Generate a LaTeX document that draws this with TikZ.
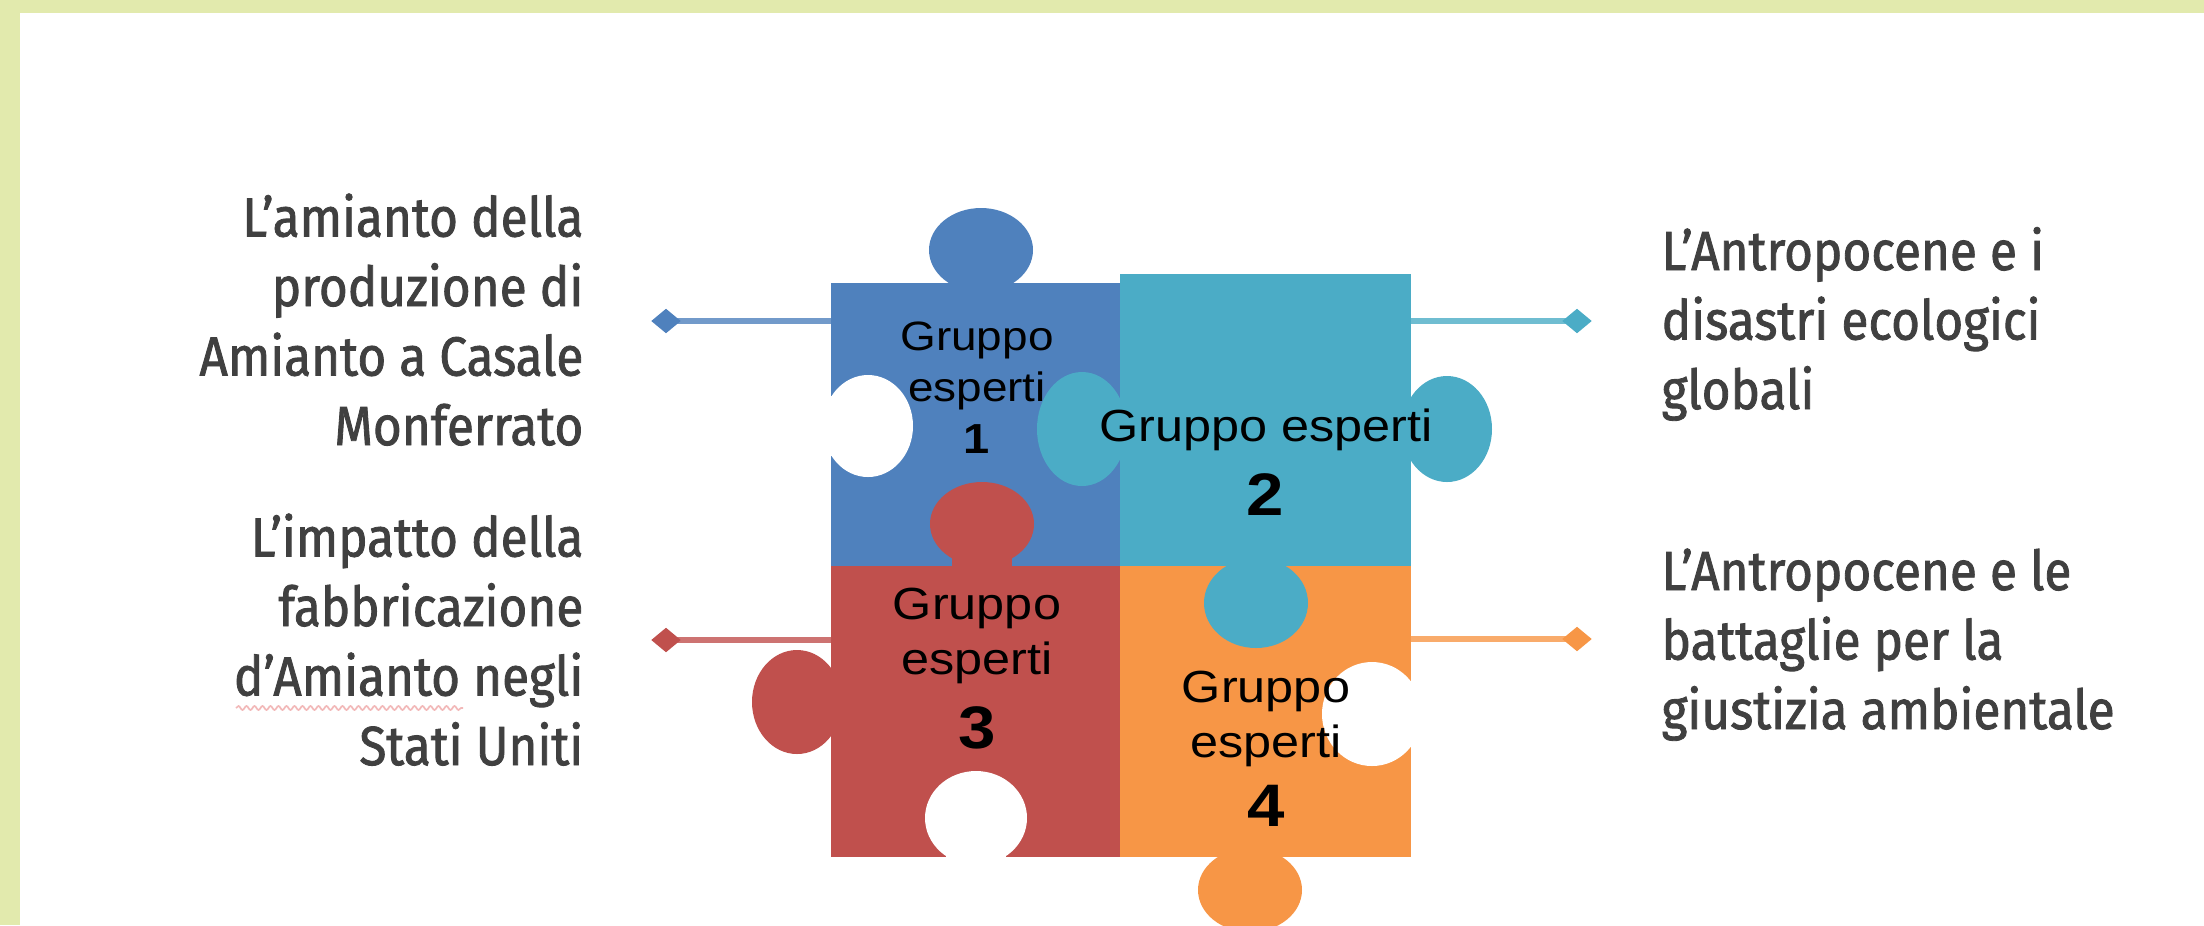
\documentclass[tikz,border=0pt]{standalone}
\usepackage{fontspec}
\usetikzlibrary{shapes.geometric,decorations.pathmorphing}
\newfontfamily\lblfont{Fira Sans}[FakeStretch=0.9,FakeBold=1.5]
\newfontfamily\grpfont{Liberation Sans}[FakeStretch=1.12]
\definecolor{bgframe}{HTML}{E2EAAD}
\definecolor{cblue}{HTML}{4F81BD}
\definecolor{cteal}{HTML}{4BACC6}
\definecolor{cred}{HTML}{C0504D}
\definecolor{corange}{HTML}{F79646}
\definecolor{ctext}{HTML}{404040}
\definecolor{cspell}{HTML}{F2B8B8}
\begin{document}
\begin{tikzpicture}[x=0.3pt,y=-0.3pt,
  piece/.style={rectangle, inner sep=0pt, outer sep=0pt},
  enddot/.style={diamond, inner sep=0pt, minimum width=9pt, minimum height=7.5pt},
  conn/.style={line width=1.6pt},
  lbl/.style={font=\lblfont\fontsize{16.5pt}{20.85pt}\selectfont, text=ctext, inner sep=0pt},
  grp/.style={font=\grpfont\fontsize{13.5pt}{16.5pt}\selectfont, text=black, inner sep=0pt, align=center},
  num/.style={font=\grpfont\bfseries\fontsize{18pt}{20pt}\selectfont, text=black, inner sep=0pt}]
\useasboundingbox (0,0) rectangle (2204,925);
\clip (0,0) rectangle (2204,925);
\fill[bgframe] (0,0) rectangle (2204,925);
\fill[white] (20,13) rectangle (2204,925);
% pieces
\node[piece, fill=cblue, minimum width=86.7pt, minimum height=84.9pt] (p1) at (975.5,424.5) {};
\node[piece, fill=cteal, minimum width=87.3pt, minimum height=87.6pt] (p2) at (1265.5,420) {};
\node[piece, fill=cred, minimum width=86.7pt, minimum height=87.3pt] (p3) at (975.5,711.5) {};
\node[piece, fill=corange, minimum width=87.3pt, minimum height=87.3pt] (p4) at (1265.5,711.5) {};
% tabs
\fill[cblue] (981,250) ellipse [x radius=52, y radius=42];
\fill[cblue] (951,250) rectangle (1011,284);
\fill[cteal] (1082,429) ellipse [x radius=45, y radius=57];
\fill[cteal] (1082,399) rectangle (1121,459);
\fill[cteal] (1447,429) ellipse [x radius=45, y radius=53];
\fill[cteal] (1410,399) rectangle (1447,459);
\fill[cteal] (1256,603) ellipse [x radius=52, y radius=45];
\fill[cteal] (1226,565) rectangle (1286,603);
\fill[cred] (982,524) ellipse [x radius=52, y radius=42];
\fill[cred] (952,524) rectangle (1012,567);
\fill[cred] (797,702) ellipse [x radius=45, y radius=52];
\fill[cred] (797,672) rectangle (833,732);
\fill[corange] (1250,890) ellipse [x radius=52, y radius=42];
\fill[corange] (1220,856) rectangle (1280,890);
% holes
\fill[white] (868,426) ellipse [x radius=45, y radius=51];
\fill[white] (830,396) rectangle (868,456);
\fill[white] (976,818) ellipse [x radius=51, y radius=47];
\fill[white] (946,818) rectangle (1006,858);
\fill[white] (1372,714) ellipse [x radius=50, y radius=52];
\fill[white] (1372,684) rectangle (1412,744);
% end markers and connectors
\draw[conn, cblue!80] (666,321) coordinate (c1) -- (c1 -| p1.west);
\node[enddot, fill=cblue] (d1) at (c1) {};
\draw[conn, cred!80] (666,640) coordinate (c3) -- (c3 -| p3.west);
\node[enddot, fill=cred] (d3) at (c3) {};
\draw[conn, cteal!80] (1577,321) coordinate (c2) -- (c2 -| p2.east);
\node[enddot, fill=cteal] (d2) at (c2) {};
\draw[conn, corange!80] (1577,639) coordinate (c4) -- (c4 -| p4.east);
\node[enddot, fill=corange] (d4) at (c4) {};
% labels (base anchor = last line)
\node[lbl, align=right, anchor=base east] (t1) at (584,445) {L’amianto della\\produzione di\\Amianto a Casale\\Monferrato};
\node[lbl, align=right, anchor=base east] (t3) at (584,765) {L’impatto della\\fabbricazione\\d’Amianto negli\\Stati Uniti};
\node[lbl, align=left, anchor=base west] (t2) at (1661,409) {L’Antropocene e i\\disastri ecologici\\globali};
\node[lbl, align=left, anchor=base west] (t4) at (1661,729) {L’Antropocene e le\\battaglie per la\\giustizia ambientale};
\coordinate (sq1) at (236,708);
\coordinate (sq2) at (463,708);
\draw[cspell, line width=0.5pt, decorate, decoration={snake, amplitude=0.6pt, segment length=2.4pt}] (sq1) -- (sq2);
% piece texts
\node[grp, font=\grpfont\fontsize{12.3pt}{15.3pt}\selectfont, anchor=base] (g1) at (977,401) {Gruppo\\esperti};
\node[num, font=\grpfont\bfseries\fontsize{12.6pt}{15pt}\selectfont, anchor=base] (n1) at (977,453) {1};
\node[grp, anchor=base] (g2) at (1266,441) {Gruppo esperti};
\node[num, anchor=base] (n2) at (1265,515) {2};
\node[grp, anchor=base] (g3) at (977,674) {Gruppo\\esperti};
\node[num, anchor=base] (n3) at (977,748) {3};
\node[grp, anchor=base] (g4) at (1266,757) {Gruppo\\esperti};
\node[num, anchor=base] (n4) at (1266,826) {4};
\end{tikzpicture}
\end{document}
